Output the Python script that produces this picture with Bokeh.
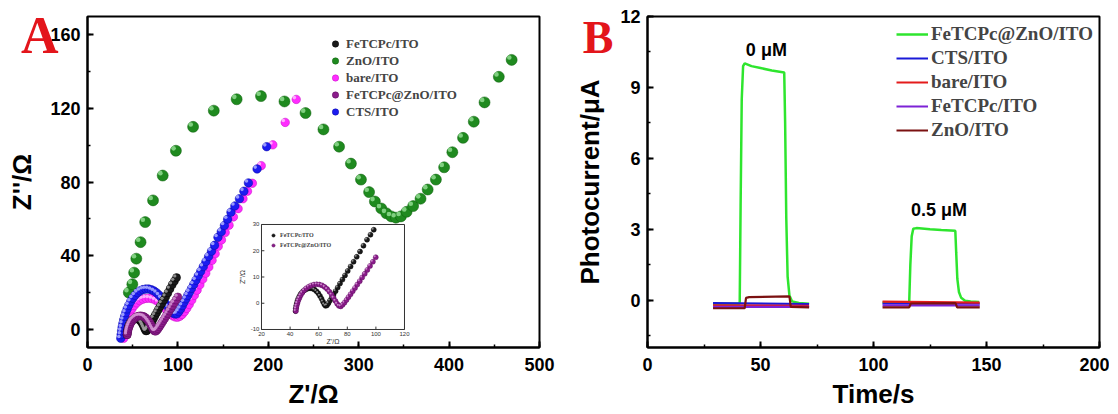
import math
from bokeh.plotting import figure
from bokeh.layouts import row
from bokeh.models import (Range1d, SingleIntervalTicker, FixedTicker, LinearAxis, Legend,
                          LegendItem, ColumnDataSource)
from bokeh.transform import dodge
from bokeh.core.properties import value
from bokeh.embed import file_html
from bokeh.resources import INLINE

nan = float("nan")

# ---------------- Panel A data (Nyquist plots) ----------------
zno_x = [45.7, 49.6, 51.6, 54.0, 58.7, 63.8, 72.5, 83.2, 97.8, 116.8, 139.7, 165.0, 191.9,
         217.9, 241.2, 261.0, 278.3, 291.4, 302.5, 311.5, 317.9, 325.0, 330.5, 336.0, 341.2,
         346.7, 353.0, 360.2, 368.4, 376.3, 385.4, 394.5, 403.6, 415.4, 427.3, 439.2, 455.0, 469.2]
zno_y = [19.9, 24.4, 30.7, 38.3, 47.3, 58.2, 70.0, 83.5, 97.0, 110.0, 118.8, 125.0, 126.7,
         123.8, 117.5, 108.6, 99.2, 90.0, 81.3, 74.5, 69.4, 65.6, 63.0, 61.3, 60.6,
         61.3, 63.8, 66.9, 70.9, 75.9, 81.3, 88.0, 96.2, 104.0, 112.8, 123.3, 137.2, 146.4]

cts_x = [36.8, 37.2, 37.7, 38.3, 39.1, 40.0, 41.1, 42.4, 43.9, 45.7, 47.8, 50.1, 52.7, 55.5,
         58.4, 61.4, 64.5, 67.6, 70.7, 73.7, 76.6, 79.4, 82.0, 84.5, 86.8, 89.0, 91.0, 93.0,
         95.0, 97.0, 99.0, 101.0, 103.0, 105.0, 107.0, 109.0, 111.0, 113.0, 115.2, 117.5,
         120.0, 122.6, 125.3, 128.1, 131.0, 134.0, 137.2, 140.6, 144.3, 148.0, 151.5, 155.0,
         158.7, 163.0, 168.1, 173.0, 178.0, 187.6, 198.2]
cts_y = [-5.0, -3.0, -1.0, 1.0, 3.0, 5.0, 7.0, 9.0, 11.0, 13.0, 15.0, 16.8, 18.4, 19.8,
         20.8, 21.5, 21.8, 21.8, 21.4, 20.7, 19.7, 18.4, 16.9, 15.3, 13.7, 12.1, 10.7, 9.5,
         8.6, 8.2, 8.3, 9.5, 11.0, 12.8, 14.7, 16.5, 18.4, 20.2, 22.2, 24.3,
         26.6, 29.0, 31.5, 34.0, 36.7, 39.5, 42.4, 45.6, 49.9, 53.0, 56.4, 59.8,
         63.6, 67.0, 70.9, 75.0, 79.5, 87.1, 99.2]

bare_x = [40.0, 40.3, 40.8, 41.5, 42.4, 43.6, 45.1, 46.9, 49.1, 51.7, 54.6, 57.8, 61.2, 64.7,
          68.2, 71.7, 75.1, 78.4, 81.5, 84.4, 87.1, 89.7, 92.2, 94.7, 97.2, 99.7, 102.2, 104.7,
          107.2, 109.8, 112.5, 115.3, 118.2, 121.2, 124.3, 127.5, 130.8, 134.2, 137.8, 141.2,
          144.6, 148.2, 152.3, 156.6, 161.4, 166.6, 172.0, 177.0, 182.4, 192.2, 205.0, 218.7, 230.9]
bare_y = [-5.0, -3.0, -1.0, 1.0, 3.0, 5.0, 7.0, 9.0, 11.0, 12.8, 14.3, 15.5, 16.3, 16.7,
          16.8, 16.5, 15.8, 14.8, 13.5, 12.0, 10.6, 9.2, 8.0, 7.1, 6.6, 6.5, 7.0, 8.0,
          9.5, 11.3, 13.4, 15.8, 18.4, 21.2, 24.1, 27.2, 30.4, 33.8, 37.4, 41.0,
          45.0, 48.5, 52.5, 56.5, 61.0, 65.5, 70.9, 75.0, 79.3, 88.9, 100.2, 112.4, 124.9]

fetcpc_x = [43.8, 44.0, 44.3, 44.7, 45.2, 45.8, 46.6, 47.5, 48.6, 49.8, 51.1, 52.5, 54.0,
            55.5, 57.0, 58.4, 59.7, 60.9, 62.0, 63.0, 63.9, 64.8, 65.8, 66.8, 67.9, 69.1,
            70.4, 71.8, 73.3, 74.9, 76.6, 78.4, 80.3, 82.3, 84.4, 86.6, 88.9, 91.3, 93.8, 96.2, 98.5]
fetcpc_y = [-3.0, -2.0, -1.0, 0.0, 1.0, 1.9, 2.8, 3.6, 4.3, 4.9, 5.3, 5.6, 5.7,
            5.6, 5.2, 4.6, 3.8, 2.8, 1.7, 0.6, -0.4, -1.0, -0.8, 0.0, 1.0, 2.1,
            3.3, 4.6, 6.0, 7.5, 9.0, 10.6, 12.3, 14.0, 15.8, 17.7, 19.7, 21.9, 24.2, 26.1, 28.0]

fzno_x = [44.0, 44.2, 44.6, 45.1, 45.7, 46.5, 47.4, 48.5, 49.8, 51.3, 53.0, 54.8, 56.7, 58.6,
          60.5, 62.4, 64.2, 65.9, 67.5, 69.0, 70.4, 71.7, 72.9, 74.1, 75.4, 76.7, 78.0, 79.4,
          80.8, 82.3, 83.8, 85.4, 87.0, 88.7, 90.4, 92.2, 94.0, 95.9, 97.9, 99.9]
fzno_y = [-3.0, -2.0, -1.0, 0.0, 1.0, 2.0, 3.0, 4.0, 4.9, 5.7, 6.3, 6.8, 7.1, 7.2,
          7.1, 6.8, 6.2, 5.4, 4.4, 3.3, 2.1, 0.9, -0.2, -1.0, -1.2, -0.6, 0.2, 1.2,
          2.3, 3.4, 4.6, 5.8, 7.1, 8.4, 9.8, 11.2, 12.7, 14.2, 15.8, 17.5]

inset_xticks = [20, 40, 60, 80, 100, 120]
inset_yticks = [-10, 0, 10, 20, 30]

# ---------------- Panel B data (photocurrent) ----------------
t_green = [29, 40.8, 41.2, 41.7, 42.3, 43.0, 46, 50, 55, 60.5, 60.9, 61.4, 62.0, 62.8, 64, 67, 71.5,
           nan, 104, 115.8, 116.3, 116.9, 117.6, 119, 125, 130, 136.2, 136.6, 137.1, 137.8, 138.8,
           140.5, 143, 146.7]
i_green = [-0.15, -0.15, 4.0, 8.5, 9.9, 10.02, 9.9, 9.82, 9.72, 9.63, 7.5, 3.5, 1.0, 0.2, -0.05,
           -0.12, -0.15, nan, -0.1, -0.1, 1.5, 2.7, 3.02, 3.05, 3.0, 2.97, 2.94, 2.0, 0.9, 0.35,
           0.1, -0.02, -0.05, -0.08]
t_cts = [29, 71.5, nan, 104, 147]
i_cts = [-0.12, -0.16, nan, -0.14, -0.14]
t_bare = [29, 71.5, nan, 104, 147]
i_bare = [-0.22, -0.24, nan, -0.06, -0.1]
t_fetcpc = [29, 71.5, nan, 104, 147]
i_fetcpc = [-0.28, -0.28, nan, -0.22, -0.22]
t_zno = [29, 43.0, 43.6, 45, 62.8, 63.4, 71.5, nan, 104, 115.8, 116.5, 136.3, 137.0, 147]
i_zno = [-0.34, -0.34, 0.1, 0.13, 0.16, -0.28, -0.3, nan, -0.3, -0.3, -0.14, -0.12, -0.3, -0.3]

conc_labels = ["0 μM", "0.5 μM"]
conc_t = [52.6, 129.0]
conc_i = [10.6, 3.8]

SANS = "Liberation Sans"
SERIF = "Liberation Serif"
RED = "#e3151b"
HAS_ALIGN = "axis_label_align" in LinearAxis.properties()


def style(p, xlabel, xint, yint):
    p.outline_line_color = "black"
    p.outline_line_width = 2
    p.outline_line_alpha = 1
    p.xgrid.visible = False
    p.ygrid.visible = False
    p.background_fill_color = "white"
    p.border_fill_color = "white"
    p.xaxis.ticker = SingleIntervalTicker(interval=xint, num_minor_ticks=2)
    p.yaxis.ticker = SingleIntervalTicker(interval=yint, num_minor_ticks=2)
    p.xaxis.axis_label = xlabel
    for ax in (p.xaxis[0], p.yaxis[0]):
        ax.axis_line_width = 2
        ax.axis_line_color = "black"
        ax.major_tick_in = 6
        ax.major_tick_out = 0
        ax.minor_tick_in = 3
        ax.minor_tick_out = 0
        ax.major_tick_line_width = 2
        ax.minor_tick_line_width = 1.5
        ax.major_tick_line_color = "black"
        ax.minor_tick_line_color = "black"
        ax.major_label_text_font = SANS
        ax.major_label_text_font_style = "bold"
        ax.major_label_text_font_size = "18px"
        ax.major_label_text_color = "black"
        ax.axis_label_text_font = SANS
        ax.axis_label_text_font_style = "bold"
        ax.axis_label_text_font_size = "26px"
        ax.axis_label_text_color = "black"
    p.xaxis.major_label_standoff = 10
    p.xaxis.axis_label_standoff = 5
    p.yaxis.major_label_standoff = 7


def bare_axis(label, standoff, **kw):
    return LinearAxis(ticker=FixedTicker(ticks=[]), axis_label=label,
                      axis_line_color=None, major_tick_line_color=None, minor_tick_line_color=None,
                      major_tick_in=0, major_tick_out=0, minor_tick_in=0, minor_tick_out=0,
                      major_label_standoff=0, axis_label_standoff=standoff, **kw)


def left_labels(p, letter, letter_size, letter_lh, letter_standoff, ylabel, ylabel_standoff):
    # panel letter: a tick-less left axis whose horizontal label sits at the top end
    kw = dict(axis_label_orientation="horizontal", axis_label_text_font=SERIF,
              axis_label_text_font_style="bold", axis_label_text_font_size=letter_size,
              axis_label_text_color=RED, axis_label_text_line_height=letter_lh)
    if HAS_ALIGN:
        kw["axis_label_align"] = "end"
    p.add_layout(bare_axis("\n" + letter, letter_standoff, **kw), "left")
    # y axis title on the outermost tick-less axis
    p.add_layout(bare_axis(ylabel, ylabel_standoff, axis_label_text_font=SANS,
                           axis_label_text_font_style="bold", axis_label_text_font_size="26px",
                           axis_label_text_color="black"), "left")


def sphere(p, xs, ys, size, base, edge, hl, dx, dy, **kw):
    src = ColumnDataSource(dict(x=xs, y=ys))
    r = p.scatter("x", "y", source=src, size=size, fill_color=base, line_color=edge,
                  line_width=0.5, **kw)
    p.scatter(x=dodge("x", -dx), y=dodge("y", dy), source=src, size=size * 0.42,
              fill_color=hl, line_color=None, fill_alpha=0.85, **kw)
    return r


# ================= Panel A =================
p1 = figure(width=567, height=413, x_range=Range1d(0, 500), y_range=Range1d(-10, 170),
            output_backend="svg", toolbar_location=None,
            min_border_left=87, min_border_right=28, min_border_top=16, min_border_bottom=66)
style(p1, "Z'/Ω", 100, 40)
left_labels(p1, "A", "52px", 0.66, -11, "Z''/Ω", -19)

col = {
    "black": ("#1a1a1a", "#000000", "#a0a0a0"),
    "green": ("#1f8a1f", "#0d5e0d", "#92dc92"),
    "pink": ("#ff2cff", "#c010c0", "#ffc0ff"),
    "purple": ("#8b1c8b", "#5a0a5a", "#d596d5"),
    "blue": ("#1c1cf0", "#0a0aa0", "#b0b0ff"),
}

r_zno = sphere(p1, zno_x, zno_y, 11, *col["green"], 2.6, 1.3)
r_bare = sphere(p1, bare_x, bare_y, 8.5, *col["pink"], 2.1, 1.0)
r_cts = sphere(p1, cts_x, cts_y, 8.5, *col["blue"], 2.1, 1.0)
r_fet = sphere(p1, fetcpc_x, fetcpc_y, 8, *col["black"], 2.0, 0.95)
r_fzno = sphere(p1, fzno_x, fzno_y, 8, *col["purple"], 2.0, 0.95)

legA = Legend(items=[LegendItem(label="FeTCPc/ITO", renderers=[r_fet]),
                     LegendItem(label="ZnO/ITO", renderers=[r_zno]),
                     LegendItem(label="bare/ITO", renderers=[r_bare]),
                     LegendItem(label="FeTCPc@ZnO/ITO", renderers=[r_fzno]),
                     LegendItem(label="CTS/ITO", renderers=[r_cts])],
              location=(240, 227), border_line_alpha=0, background_fill_alpha=0,
              label_text_font=SERIF, label_text_font_style="bold", label_text_font_size="13px",
              glyph_width=16, glyph_height=17, label_height=17, spacing=0, label_standoff=3,
              padding=0, margin=0)
p1.add_layout(legA)

# ---- inset (drawn through its own ranges) ----
p1.extra_x_ranges = {"inset": Range1d(-101.68, 214.41)}
p1.extra_y_ranges = {"inset": Range1d(-16.86, 109.24)}
IK = dict(x_range_name="inset", y_range_name="inset")
p1.quad(left=inset_xticks[0], right=inset_xticks[-1], bottom=inset_yticks[0], top=inset_yticks[-1],
        fill_color="white", line_color="#333333", line_width=1, **IK)
p1.segment(x0=inset_xticks, x1=inset_xticks, y0=[inset_yticks[0]] * len(inset_xticks),
           y1=[inset_yticks[0] + 1.1] * len(inset_xticks), line_color="#333333", line_width=1, **IK)
p1.segment(x0=[inset_xticks[0]] * len(inset_yticks), x1=[inset_xticks[0] + 2.0] * len(inset_yticks),
           y0=inset_yticks, y1=inset_yticks, line_color="#333333", line_width=1, **IK)
p1.text(x=inset_xticks, y=[inset_yticks[0] - 1.0] * len(inset_xticks),
        text=[str(v) for v in inset_xticks], text_font=value(SANS), text_font_size="6px",
        text_align="center", text_baseline="top", text_color="#333333", **IK)
p1.text(x=[inset_xticks[0] - 1.5] * len(inset_yticks), y=inset_yticks,
        text=[str(v) for v in inset_yticks], text_font=value(SANS), text_font_size="6px",
        text_align="right", text_baseline="middle", text_color="#333333", **IK)
p1.text(x=[6.5], y=[10], text=["Z''/Ω"], angle=math.pi / 2, text_font=value(SANS),
        text_font_size="7px", text_align="center", text_baseline="middle", text_color="#333333", **IK)
p1.text(x=[70], y=[-14.6], text=["Z'/Ω"], text_font=value(SANS),
        text_font_size="7px", text_align="center", text_baseline="middle", text_color="#333333", **IK)

ri_fet = sphere(p1, fetcpc_x, fetcpc_y, 5, *col["black"], 0.77, 0.42, **IK)
ri_fzno = sphere(p1, fzno_x, fzno_y, 5, *col["purple"], 0.77, 0.42, **IK)
legI = Legend(items=[LegendItem(label="FeTCPc/ITO", renderers=[ri_fet]),
                     LegendItem(label="FeTCPc@ZnO/ITO", renderers=[ri_fzno])],
              location=(182, 97), border_line_alpha=0, background_fill_alpha=0,
              label_text_font=SERIF, label_text_font_style="bold", label_text_font_size="6px",
              glyph_width=8, glyph_height=10, label_height=10, spacing=0, label_standoff=3,
              padding=0, margin=0)
p1.add_layout(legI)

# ================= Panel B =================
p2 = figure(width=542, height=413, x_range=Range1d(0, 200), y_range=Range1d(-2, 12),
            output_backend="svg", toolbar_location=None,
            min_border_left=80, min_border_right=10, min_border_top=16, min_border_bottom=66)
style(p2, "Time/s", 50, 3)
left_labels(p2, "B", "46px", 0.84, 4, "Photocurrent/μA", -25)

l_green = p2.line(t_green, i_green, line_color="#2ee52e", line_width=2.5)
l_cts = p2.line(t_cts, i_cts, line_color="#1a1ad8", line_width=2.2)
l_bare = p2.line(t_bare, i_bare, line_color="#e41b1b", line_width=2.2)
l_fet = p2.line(t_fetcpc, i_fetcpc, line_color="#7d22d6", line_width=2.2)
l_zno = p2.line(t_zno, i_zno, line_color="#7b1111", line_width=2.2)

legB = Legend(items=[LegendItem(label="FeTCPc@ZnO/ITO", renderers=[l_green]),
                     LegendItem(label="CTS/ITO", renderers=[l_cts]),
                     LegendItem(label="bare/ITO", renderers=[l_bare]),
                     LegendItem(label="FeTCPc/ITO", renderers=[l_fet]),
                     LegendItem(label="ZnO/ITO", renderers=[l_zno])],
              location=(249, 205), border_line_alpha=0, background_fill_alpha=0,
              label_text_font=SERIF, label_text_font_style="bold", label_text_font_size="19px",
              glyph_width=32, glyph_height=24, label_height=24, spacing=0, label_standoff=3,
              padding=0, margin=0)
p2.add_layout(legB)

p2.text(x=conc_t, y=conc_i, text=conc_labels, text_font=value(SANS), text_font_style="bold",
        text_font_size="18px", text_align="center", text_baseline="middle", text_color="black")

layout = row(p1, p2)
open("out.html", "w").write(file_html(layout, INLINE))
